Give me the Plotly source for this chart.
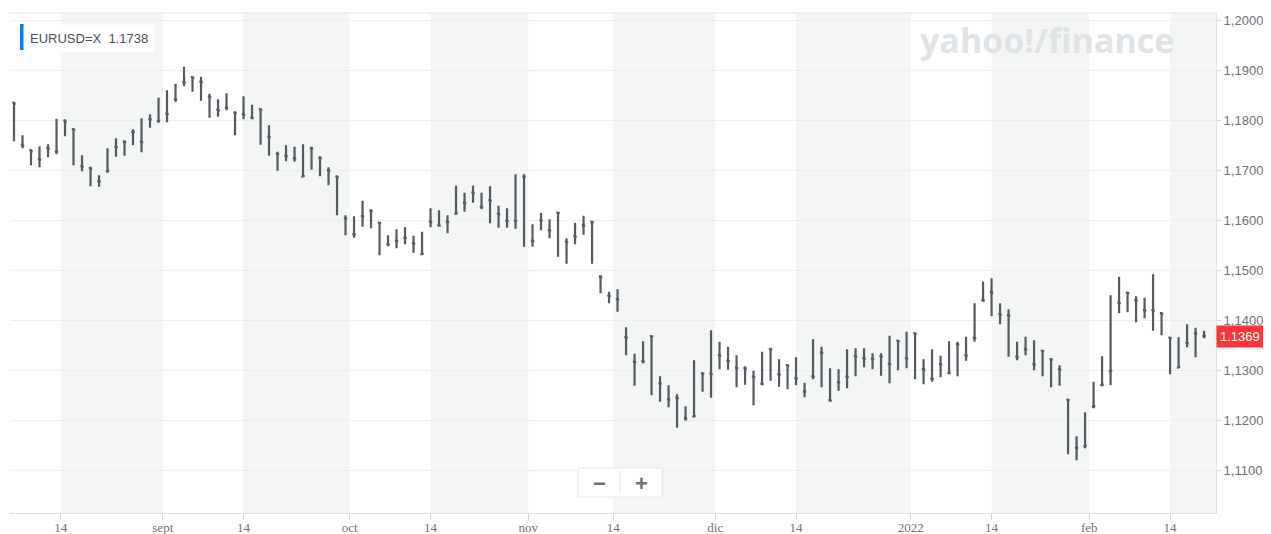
import pandas as pd
import plotly.graph_objects as go

# --- datos EURUSD=X (diario, ago 2021 - feb 2022) ---
dates = pd.bdate_range("2021-08-06", "2022-02-18") + pd.Timedelta(hours=12)

open_ = [1.1836, 1.1752, 1.1741, 1.1723, 1.1745, 1.1738, 1.1800, 1.1783, 1.1709, 1.1705,
         1.1679, 1.1699, 1.1748, 1.1758, 1.1778, 1.1758, 1.1803, 1.1799, 1.1814, 1.1843,
         1.1877, 1.1887, 1.1878, 1.1848, 1.1822, 1.1826, 1.1816, 1.1813, 1.1806, 1.1823,
         1.1768, 1.1734, 1.1730, 1.1725, 1.1688, 1.1745, 1.1726, 1.1701, 1.1688, 1.1605,
         1.1573, 1.1609, 1.1620, 1.1596, 1.1553, 1.1560, 1.1566, 1.1555, 1.1533, 1.1598,
         1.1591, 1.1598, 1.1614, 1.1636, 1.1656, 1.1628, 1.1641, 1.1614, 1.1600, 1.1600,
         1.1688, 1.1560, 1.1601, 1.1581, 1.1616, 1.1558, 1.1569, 1.1591, 1.1598, 1.1488,
         1.1450, 1.1443, 1.1367, 1.1318, 1.1319, 1.1369, 1.1275, 1.1243, 1.1246, 1.1205,
         1.1208, 1.1295, 1.1294, 1.1331, 1.1320, 1.1306, 1.1305, 1.1288, 1.1274, 1.1343,
         1.1293, 1.1311, 1.1285, 1.1259, 1.1289, 1.1336, 1.1241, 1.1277, 1.1288, 1.1329,
         1.1325, 1.1324, 1.1329, 1.1314, 1.1360, 1.1325, 1.1375, 1.1303, 1.1284, 1.1313,
         1.1295, 1.1353, 1.1331, 1.1366, 1.1441, 1.1457, 1.1413, 1.1411, 1.1328, 1.1343,
         1.1313, 1.1340, 1.1323, 1.1303, 1.1242, 1.1146, 1.1149, 1.1228, 1.1271, 1.1299,
         1.1436, 1.1456, 1.1441, 1.1421, 1.1421, 1.1415, 1.1366, 1.1306, 1.1356, 1.1375,
         1.1369]
high = [1.1838, 1.1771, 1.1743, 1.1749, 1.1753, 1.1804, 1.1803, 1.1785, 1.1731, 1.1708,
        1.1691, 1.1745, 1.1765, 1.1761, 1.1783, 1.1805, 1.1813, 1.1846, 1.1861, 1.1874,
        1.1908, 1.1888, 1.1888, 1.1854, 1.1843, 1.1855, 1.1819, 1.1849, 1.1832, 1.1824,
        1.1791, 1.1738, 1.1751, 1.1748, 1.1753, 1.1748, 1.1729, 1.1707, 1.1691, 1.1611,
        1.1609, 1.1640, 1.1623, 1.1598, 1.1571, 1.1583, 1.1587, 1.1570, 1.1578, 1.1625,
        1.1621, 1.1611, 1.1670, 1.1656, 1.1670, 1.1656, 1.1669, 1.1630, 1.1625, 1.1693,
        1.1693, 1.1593, 1.1616, 1.1603, 1.1618, 1.1565, 1.1596, 1.1610, 1.1600, 1.1491,
        1.1458, 1.1463, 1.1387, 1.1334, 1.1359, 1.1371, 1.1289, 1.1271, 1.1253, 1.1229,
        1.1321, 1.1296, 1.1381, 1.1358, 1.1348, 1.1331, 1.1309, 1.1300, 1.1338, 1.1346,
        1.1323, 1.1313, 1.1327, 1.1276, 1.1363, 1.1348, 1.1305, 1.1303, 1.1343, 1.1345,
        1.1345, 1.1335, 1.1335, 1.1370, 1.1360, 1.1378, 1.1376, 1.1323, 1.1343, 1.1330,
        1.1359, 1.1358, 1.1368, 1.1435, 1.1478, 1.1485, 1.1435, 1.1423, 1.1358, 1.1368,
        1.1361, 1.1341, 1.1325, 1.1311, 1.1243, 1.1169, 1.1217, 1.1278, 1.1329, 1.1451,
        1.1488, 1.1458, 1.1449, 1.1446, 1.1493, 1.1417, 1.1367, 1.1367, 1.1393, 1.1386,
        1.1380]
low = [1.1759, 1.1745, 1.1711, 1.1707, 1.1727, 1.1733, 1.1769, 1.1711, 1.1699, 1.1669,
       1.1668, 1.1696, 1.1728, 1.1730, 1.1751, 1.1737, 1.1786, 1.1796, 1.1797, 1.1838,
       1.1869, 1.1858, 1.1840, 1.1806, 1.1808, 1.1821, 1.1771, 1.1803, 1.1803, 1.1752,
       1.1730, 1.1700, 1.1719, 1.1718, 1.1688, 1.1702, 1.1689, 1.1671, 1.1611, 1.1571,
       1.1566, 1.1588, 1.1585, 1.1531, 1.1549, 1.1545, 1.1553, 1.1536, 1.1531, 1.1587,
       1.1588, 1.1575, 1.1612, 1.1618, 1.1636, 1.1623, 1.1595, 1.1586, 1.1586, 1.1584,
       1.1548, 1.1548, 1.1581, 1.1565, 1.1528, 1.1514, 1.1553, 1.1572, 1.1514, 1.1455,
       1.1435, 1.1418, 1.1331, 1.1270, 1.1315, 1.1251, 1.1238, 1.1227, 1.1186, 1.1200,
       1.1207, 1.1258, 1.1246, 1.1303, 1.1302, 1.1267, 1.1272, 1.1231, 1.1271, 1.1280,
       1.1268, 1.1263, 1.1271, 1.1247, 1.1283, 1.1267, 1.1238, 1.1260, 1.1265, 1.1289,
       1.1307, 1.1303, 1.1290, 1.1275, 1.1301, 1.1305, 1.1283, 1.1273, 1.1278, 1.1287,
       1.1293, 1.1289, 1.1320, 1.1358, 1.1438, 1.1409, 1.1393, 1.1328, 1.1321, 1.1331,
       1.1301, 1.1289, 1.1267, 1.1270, 1.1133, 1.1121, 1.1145, 1.1225, 1.1269, 1.1271,
       1.1415, 1.1417, 1.1397, 1.1405, 1.1380, 1.1371, 1.1293, 1.1306, 1.1347, 1.1327,
       1.1365]
close = [1.1834, 1.1750, 1.1739, 1.1722, 1.1744, 1.1738, 1.1798, 1.1782, 1.1708, 1.1704,
         1.1678, 1.1700, 1.1747, 1.1757, 1.1777, 1.1757, 1.1802, 1.1800, 1.1813, 1.1842,
         1.1876, 1.1886, 1.1877, 1.1847, 1.1821, 1.1825, 1.1815, 1.1812, 1.1805, 1.1822,
         1.1767, 1.1733, 1.1729, 1.1724, 1.1689, 1.1744, 1.1725, 1.1700, 1.1687, 1.1604,
         1.1572, 1.1608, 1.1619, 1.1595, 1.1552, 1.1559, 1.1565, 1.1554, 1.1534, 1.1597,
         1.1590, 1.1597, 1.1615, 1.1635, 1.1655, 1.1627, 1.1640, 1.1613, 1.1599, 1.1599,
         1.1687, 1.1559, 1.1600, 1.1580, 1.1615, 1.1557, 1.1568, 1.1590, 1.1597, 1.1487,
         1.1449, 1.1442, 1.1366, 1.1317, 1.1318, 1.1368, 1.1274, 1.1242, 1.1245, 1.1204,
         1.1209, 1.1294, 1.1293, 1.1330, 1.1319, 1.1305, 1.1304, 1.1287, 1.1273, 1.1342,
         1.1292, 1.1310, 1.1284, 1.1258, 1.1288, 1.1335, 1.1240, 1.1276, 1.1287, 1.1328,
         1.1324, 1.1323, 1.1328, 1.1313, 1.1359, 1.1324, 1.1374, 1.1302, 1.1283, 1.1312,
         1.1296, 1.1352, 1.1330, 1.1365, 1.1440, 1.1456, 1.1412, 1.1410, 1.1327, 1.1342,
         1.1312, 1.1339, 1.1322, 1.1302, 1.1241, 1.1145, 1.1150, 1.1229, 1.1272, 1.1300,
         1.1435, 1.1455, 1.1440, 1.1420, 1.1420, 1.1414, 1.1365, 1.1307, 1.1355, 1.1374,
         1.1369]

# fechas que caen en fin de semana se ponen en el lunes 00:00 (fuera del rangebreak)
tick_dates = ["2021-08-16", "2021-09-01", "2021-09-14 12:00", "2021-10-01",
              "2021-10-14 12:00", "2021-11-01", "2021-11-15", "2021-12-01",
              "2021-12-14 12:00", "2022-01-03", "2022-01-14 12:00", "2022-02-01",
              "2022-02-14 12:00"]
tick_labels = ["14", "sept", "14", "oct", "14", "nov", "14", "dic", "14", "2022", "14", "feb", "14"]
x_range = ["2021-08-06 00:40", "2022-02-21 21:40"]

# --- colores / geometría (px en la ventana 1271x534) ---
BAR = "#535a61"
BAND = "#f4f5f5"
OFF = 8  # margen por defecto del <body> en la página
L, R, T, B = 10, 1216, 13, 513
W, H = R - L, B - T


def px(x):
    return (x - L) / W


def py(y):
    return (B - y) / H


fig = go.Figure()
fig.add_trace(go.Ohlc(
    x=dates, open=open_, high=high, low=low, close=close,
    increasing=dict(line=dict(color=BAR, width=2.2)),
    decreasing=dict(line=dict(color=BAR, width=2.2)),
    tickwidth=0.2, hoverinfo="skip", showlegend=False,
))

# bandas sombreadas (del 14 al 1 de cada mes)
shapes = []
band_edges = tick_dates + [x_range[1]]
for k in range(0, len(band_edges) - 1, 2):
    shapes.append(dict(type="rect", xref="x", yref="paper", x0=band_edges[k], x1=band_edges[k + 1],
                       y0=0, y1=1, fillcolor=BAND, line_width=0, layer="below"))

# borde superior
shapes.append(dict(type="line", xref="paper", yref="paper", x0=-0.002, x1=1, y0=1, y1=1,
                   line=dict(color="#e3e6e9", width=1)))
# barra azul de la leyenda
shapes.append(dict(type="rect", xref="paper", yref="paper", x0=px(20), x1=px(24), y0=py(50), y1=py(24),
                   fillcolor="#0081f2", line_width=0))
# control de zoom
shapes.append(dict(type="rect", xref="paper", yref="paper", x0=px(578), x1=px(662), y0=py(497), y1=py(468),
                   fillcolor="white", line=dict(color="#e6e8ea", width=1)))
shapes.append(dict(type="line", xref="paper", yref="paper", x0=px(620), x1=px(620), y0=py(494), y1=py(471),
                   line=dict(color="#e6e8ea", width=1)))

annotations = [
    dict(text="EURUSD=X  1.1738", x=0, y=1, xref="paper", yref="paper", xanchor="left", yanchor="top",
         xshift=13, yshift=-11, showarrow=False, bgcolor="white", borderpad=6,
         font=dict(family="Helvetica Neue, Arial, sans-serif", size=13, color="#464e56")),
    dict(text="<b>yahoo!/finance</b>", x=px(1047), y=py(40), xref="paper", yref="paper",
         xanchor="center", yanchor="middle", showarrow=False,
         font=dict(family="Open Sans, Arial, sans-serif", size=34, color="#e0e3e6")),
    dict(text="1.1369", x=1, y=close[-1], xref="paper", yref="y", xanchor="left", yanchor="middle",
         showarrow=False, bgcolor="#ff333a", borderpad=3,
         font=dict(family="Helvetica Neue, Arial, sans-serif", size=13, color="white")),
    dict(text="<b>−</b>", x=px(599), y=py(483), xref="paper", yref="paper", showarrow=False,
         xanchor="center", yanchor="middle", font=dict(family="Arial", size=22, color="#6b7177")),
    dict(text="<b>+</b>", x=px(642), y=py(483), xref="paper", yref="paper", showarrow=False,
         xanchor="center", yanchor="middle", font=dict(family="Arial", size=22, color="#6b7177")),
]

fig.update_layout(
    width=1271 - OFF, height=534 - OFF,
    margin=dict(l=L - OFF, r=1271 - R, t=T - OFF, b=534 - B),
    paper_bgcolor="white", plot_bgcolor="white",
    separators=",.",
    shapes=shapes, annotations=annotations,
    showlegend=False, hovermode=False,
    xaxis=dict(
        type="date", range=x_range, rangeslider_visible=False, automargin=False,
        rangebreaks=[dict(bounds=["sat", "mon"])],
        tickvals=tick_dates, ticktext=tick_labels,
        ticks="outside", ticklen=6, tickcolor="#d5d8db", ticklabelstandoff=-4,
        showgrid=False, zeroline=False,
        showline=True, linecolor="#dfe2e5", linewidth=1,
        tickfont=dict(family="Liberation Serif, Times New Roman, serif", size=13, color="#6c7279"),
    ),
    yaxis=dict(
        side="right", range=[1.10154, 1.20154], automargin=False,
        tickvals=[1.11, 1.12, 1.13, 1.14, 1.15, 1.16, 1.17, 1.18, 1.19, 1.20],
        tickformat=".4f",
        ticks="outside", ticklen=4, tickcolor="#d5d8db",
        showgrid=True, gridcolor="#eceeef", gridwidth=1, zeroline=False,
        showline=True, linecolor="#dfe2e5", linewidth=1,
        tickfont=dict(family="Helvetica Neue, Arial, sans-serif", size=13, color="#6c7279"),
    ),
)

fig.write_html("out.html")
